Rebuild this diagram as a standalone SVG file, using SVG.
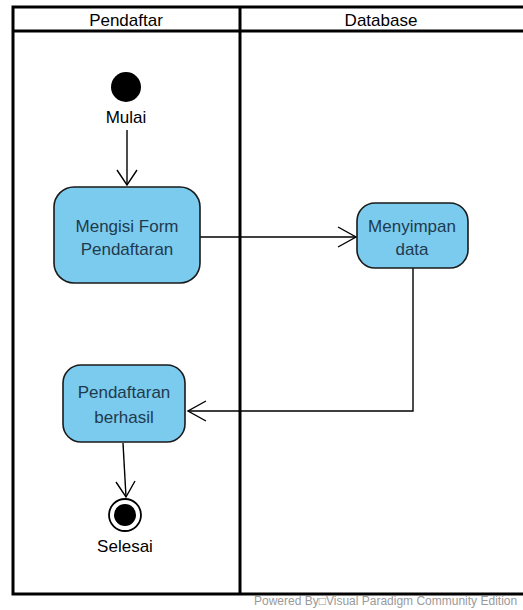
<svg xmlns="http://www.w3.org/2000/svg" width="523" height="610" viewBox="0 0 523 610">
<style>
.frame{fill:none;stroke:#000;stroke-width:3}
.act{fill:#7BCBEE;stroke:#1a1a1a;stroke-width:1.6}
.lbl{font-family:"Liberation Sans",Arial,sans-serif;font-size:17px;fill:#1f3a4d;text-anchor:middle}
.hdr{font-family:"Liberation Sans",Arial,sans-serif;font-size:17px;fill:#000;text-anchor:middle}
.name{font-family:"Liberation Sans",Arial,sans-serif;font-size:17px;fill:#000;text-anchor:middle}
.edge{fill:none;stroke:#000;stroke-width:1.4}
.head{fill:none;stroke:#000;stroke-width:1.4}
</style>
<rect width="523" height="610" fill="#fff"/>
<g id="swimlanes">
<rect class="frame" x="13" y="7" width="520" height="587"/>
<line class="frame" x1="13" y1="31" x2="523" y2="31"/>
<line class="frame" x1="240" y1="7" x2="240" y2="594"/>
<text class="hdr" x="126" y="26">Pendaftar</text>
<text class="hdr" x="381" y="26">Database</text>
</g>
<g id="connectors">
<line class="edge" x1="127" y1="130" x2="127" y2="185"/>
<polyline class="head" points="117,170 127,185 137,170"/>
<line class="edge" x1="200" y1="237" x2="356" y2="237"/>
<polyline class="head" points="338,227 356,237 338,247"/>
<polyline class="edge" points="413,268 413,411 188,411"/>
<polyline class="head" points="206,401 188,411 206,421"/>
<line class="edge" x1="123" y1="443" x2="126" y2="497"/>
<polyline class="head" points="116,482 126,497 135,481"/>
</g>
<g id="start">
<circle cx="126" cy="87" r="15" fill="#000"/>
<text class="name" x="126" y="123">Mulai</text>
</g>
<g id="mengisi">
<rect class="act" x="54" y="187" width="146" height="96" rx="20"/>
<text class="lbl" x="127" y="232">Mengisi Form</text>
<text class="lbl" x="127" y="255">Pendaftaran</text>
</g>
<g id="menyimpan">
<rect class="act" x="357" y="203" width="111" height="65" rx="18"/>
<text class="lbl" x="412" y="232">Menyimpan</text>
<text class="lbl" x="412" y="255">data</text>
</g>
<g id="berhasil">
<rect class="act" x="63" y="365" width="122" height="77" rx="18"/>
<text class="lbl" x="124" y="398">Pendaftaran</text>
<text class="lbl" x="124" y="423">berhasil</text>
</g>
<g id="end">
<circle cx="125" cy="515" r="16" fill="#fff" stroke="#000" stroke-width="1.8"/>
<circle cx="125" cy="515" r="11" fill="#000"/>
<text class="name" x="125" y="552">Selesai</text>
</g>
<text x="254" y="605" font-family="'Liberation Sans',Arial,sans-serif" font-size="12px" fill="#9a9a9a">Powered By□Visual Paradigm Community Edition</text>
</svg>
